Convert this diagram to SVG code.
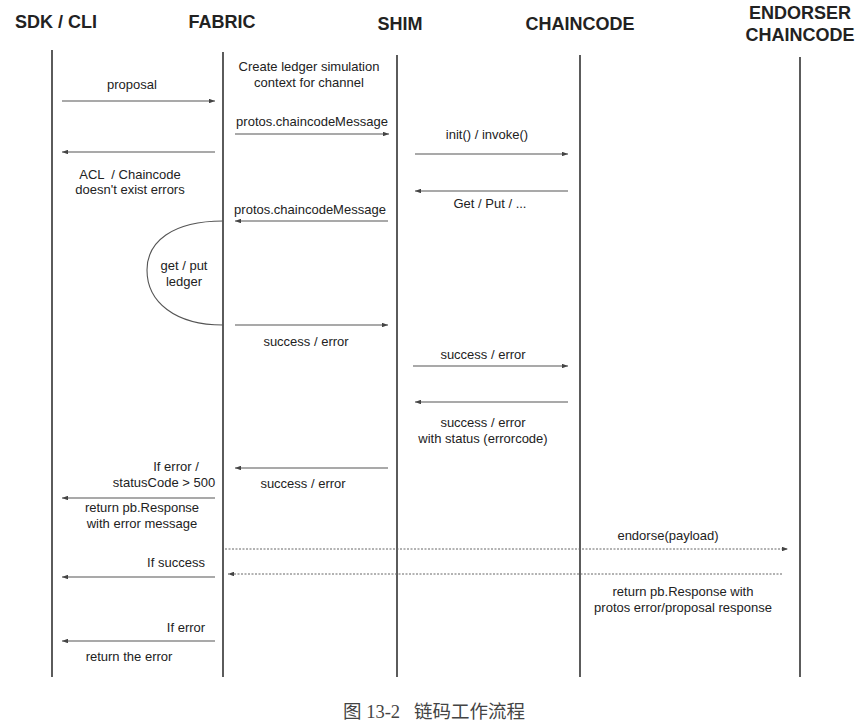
<svg xmlns="http://www.w3.org/2000/svg" width="860" height="724" viewBox="0 0 860 724">
<defs>
<marker id="ah" viewBox="0 0 8 6" refX="8" refY="3" markerWidth="6" markerHeight="4.5" orient="auto" markerUnits="userSpaceOnUse">
<path d="M0,0 L8,3 L0,6 z" fill="#444"/>
</marker>
</defs>
<style>
.hd{font-family:"Liberation Sans",Arial,sans-serif;font-weight:bold;font-size:18px;fill:#222;text-anchor:middle}
.lb{font-family:"Liberation Sans",Arial,sans-serif;font-size:13px;fill:#222;text-anchor:middle;white-space:pre}
.ll{stroke:#333;stroke-width:1.6;fill:none}
.msg{stroke:#555;stroke-width:1.1;fill:none;marker-end:url(#ah)}
.dot{stroke:#666;stroke-width:1;stroke-dasharray:2,1.5;fill:none}
.cap{font-family:"Liberation Serif","Noto Sans CJK SC",serif;font-size:18.5px;fill:#444;text-anchor:middle;white-space:pre}
</style>
<rect width="860" height="724" fill="#fff"/>
<g id="sdk">
<text class="hd" x="56" y="28">SDK / CLI</text>
<line class="ll" x1="52" y1="50" x2="52" y2="677"/>
</g>
<g id="fabric">
<text class="hd" x="222" y="28">FABRIC</text>
<line class="ll" x1="223" y1="52" x2="223" y2="677"/>
</g>
<g id="shim">
<text class="hd" x="400" y="30">SHIM</text>
<line class="ll" x1="397" y1="55" x2="397" y2="677"/>
</g>
<g id="chaincode">
<text class="hd" x="580" y="30">CHAINCODE</text>
<line class="ll" x1="580" y1="55" x2="580" y2="677"/>
</g>
<g id="endorser">
<text class="hd" x="800" y="19">ENDORSER</text>
<text class="hd" x="800" y="41">CHAINCODE</text>
<line class="ll" x1="800" y1="57" x2="800" y2="677"/>
</g>
<g id="connectors">
<line class="msg" x1="62" y1="101" x2="215" y2="101"/>
<line class="msg" x1="235" y1="134" x2="389" y2="134"/>
<line class="msg" x1="415" y1="154" x2="568" y2="154"/>
<line class="msg" x1="215" y1="152" x2="62" y2="152"/>
<line class="msg" x1="568" y1="191" x2="415" y2="191"/>
<line class="msg" x1="388" y1="221" x2="235" y2="221"/>
<path d="M223,221 C172,221 147,242 147,270 C147,302 175,325 223,325" stroke="#555" stroke-width="1.1" fill="none"/>
<line class="msg" x1="235" y1="325" x2="388" y2="325"/>
<line class="msg" x1="413" y1="366" x2="568" y2="366"/>
<line class="msg" x1="568" y1="402" x2="415" y2="402"/>
<line class="msg" x1="388" y1="468" x2="235" y2="468"/>
<line class="msg" x1="215" y1="498" x2="62" y2="498"/>
<line class="dot" x1="225" y1="549" x2="788" y2="549" marker-end="url(#ah)"/>
<line class="dot" x1="782" y1="574" x2="228" y2="574" marker-end="url(#ah)"/>
<line class="msg" x1="215" y1="577" x2="62" y2="577"/>
<line class="msg" x1="215" y1="641" x2="62" y2="641"/>
</g>
<g id="labels">
<text class="lb" x="132" y="89">proposal</text>
<text class="lb" x="309" y="71">Create ledger simulation</text>
<text class="lb" x="309" y="87">context for channel</text>
<text class="lb" x="312" y="126">protos.chaincodeMessage</text>
<text class="lb" x="487" y="139">init() / invoke()</text>
<text class="lb" x="130" y="179">ACL  / Chaincode</text>
<text class="lb" x="130" y="194">doesn't exist errors</text>
<text class="lb" x="490" y="208">Get / Put / ...</text>
<text class="lb" x="310" y="214">protos.chaincodeMessage</text>
<text class="lb" x="184" y="270">get / put</text>
<text class="lb" x="184" y="286">ledger</text>
<text class="lb" x="306" y="346">success / error</text>
<text class="lb" x="483" y="359">success / error</text>
<text class="lb" x="483" y="427">success / error</text>
<text class="lb" x="483" y="443">with status (errorcode)</text>
<text class="lb" x="176" y="471">If error /</text>
<text class="lb" x="164" y="487">statusCode &gt; 500</text>
<text class="lb" x="303" y="488">success / error</text>
<text class="lb" x="142" y="512">return pb.Response</text>
<text class="lb" x="142" y="528">with error message</text>
<text class="lb" x="668" y="540">endorse(payload)</text>
<text class="lb" x="176" y="567">If success</text>
<text class="lb" x="683" y="596">return pb.Response with</text>
<text class="lb" x="683" y="612">protos error/proposal response</text>
<text class="lb" x="186" y="632">If error</text>
<text class="lb" x="129" y="661">return the error</text>
</g>
<text class="cap" x="434" y="718">图 13-2   链码工作流程</text>
</svg>
